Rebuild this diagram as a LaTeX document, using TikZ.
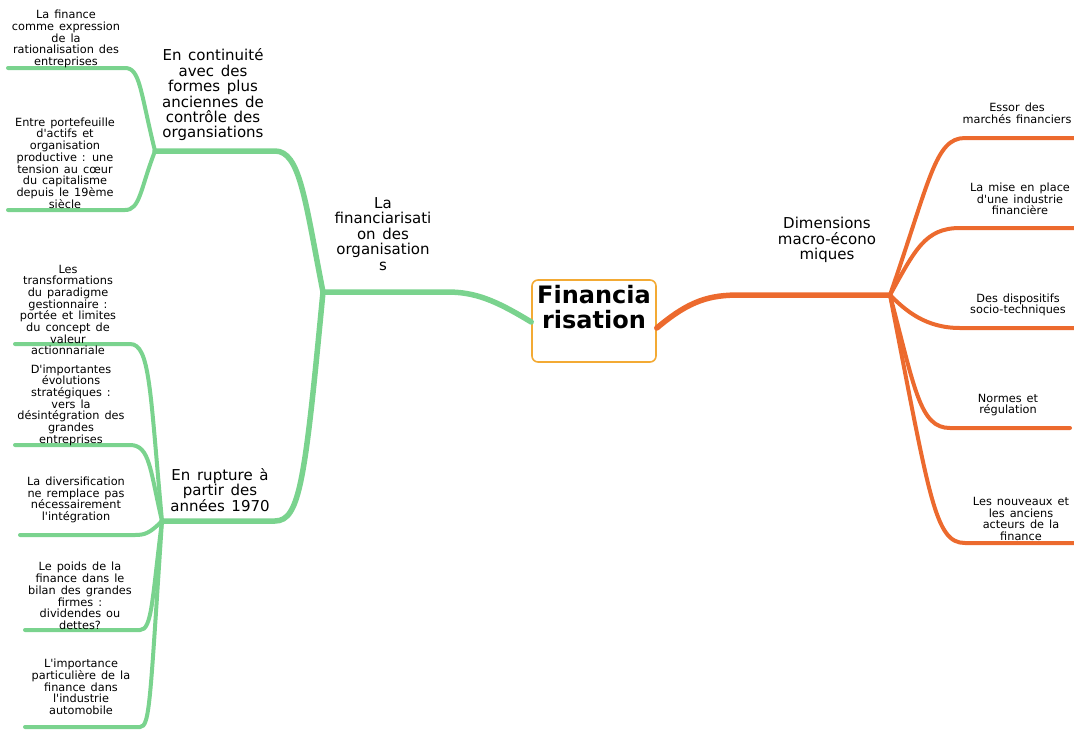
\documentclass[tikz,border=0pt]{standalone}
\usepackage{fontspec}
\setmainfont{DejaVu Sans}[WordSpace=1.4]
\usepackage{xcolor}
\usetikzlibrary{positioning, calc}
\definecolor{mapgreen}{RGB}{122,211,142}
\definecolor{maporange}{RGB}{236,106,46}
\definecolor{boxorange}{RGB}{243,170,52}
\newcommand{\ap}{\textquotesingle}
\tikzset{
    leaf/.style={
        align=center,
        inner sep=0pt,
        font=\fontsize{11.3}{11.7}\selectfont,
    },
    branch/.style={
        align=center,
        inner sep=0pt,
        font=\fontsize{15}{15.4}\selectfont,
    },
    central/.style={
        draw=boxorange,
        rounded corners=6pt,
        line width=1.6pt,
        fill=white,
        inner sep=0pt,
        font=\fontsize{24}{25}\selectfont\bfseries,
    },
    gtrunk/.style={draw=mapgreen, line width=5.5pt, line cap=round},
    gleaf/.style={draw=mapgreen, line width=4pt, line cap=round},
    otrunk/.style={draw=maporange, line width=5.5pt, line cap=round},
    oleaf/.style={draw=maporange, line width=4pt, line cap=round},
}

\begin{document}
\begin{tikzpicture}[x=1pt, y=-1pt]
      \useasboundingbox (0,0) rectangle (1074,729);

      \node[central] (fin) at (594,321)
        {\parbox[c][82pt][t]{124pt}{\centering\rule{0pt}{23pt}Financia\\risation}};

      % junctions
      \coordinate (jorg) at (323,292);
      \coordinate (jcont) at (155,151);
      \coordinate (jrupt) at (162,521);
      \coordinate (jmacro) at (890,295);

      % free ends of the leaf lines
      \coordinate (end1) at (8,68);
      \coordinate (end2) at (8,210);
      \coordinate (end3) at (15,344);
      \coordinate (end4) at (15,445);
      \coordinate (end5) at (20,535);
      \coordinate (end6) at (25,630);
      \coordinate (end7) at (25,727);
      \coordinate (endr1) at (1074,138);
      \coordinate (endr2) at (1074,228);
      \coordinate (endr3) at (1074,328);
      \coordinate (endr4) at (1070,428);
      \coordinate (endr5) at (1074,543);

      % green side
      \draw[gtrunk] ([yshift=-1pt]fin.west) .. controls (495,300) and (475,292) .. (447,292) -- (jorg);
      \draw[gtrunk] (jorg) .. controls (305,200) and (300,151) .. (275,151) -- (jcont);
      \draw[gtrunk] (jorg) .. controls (305,480) and (300,521) .. (275,521) -- (jrupt);

      \draw[gleaf] (jcont) .. controls (140,90) and (140,68) .. (125,68) -- (end1);
      \draw[gleaf] (jcont) .. controls (140,190) and (140,210) .. (125,210) -- (end2);

      \draw[gleaf] (jrupt) .. controls (150,390) and (150,344) .. (130,344) -- (end3);
      \draw[gleaf] (jrupt) .. controls (150,470) and (150,445) .. (130,445) -- (end4);
      \draw[gleaf] (jrupt) .. controls (150,533) and (145,535) .. (135,535) -- (end5);
      \draw[gleaf] (jrupt) .. controls (152,600) and (152,630) .. (140,630) -- (end6);
      \draw[gleaf] (jrupt) .. controls (150,700) and (150,727) .. (140,727) -- (end7);

      % orange side
      \draw[otrunk] ([yshift=-7pt]fin.east) .. controls (690,300) and (710,295) .. (740,295) -- (jmacro);

      \draw[oleaf] (jmacro) .. controls (930,180) and (935,138) .. (965,138) -- (endr1);
      \draw[oleaf] (jmacro) .. controls (915,250) and (925,228) .. (960,228) -- (endr2);
      \draw[oleaf] (jmacro) .. controls (905,310) and (925,328) .. (960,328) -- (endr3);
      \draw[oleaf] (jmacro) .. controls (915,390) and (920,428) .. (950,428) -- (endr4);
      \draw[oleaf] (jmacro) .. controls (930,500) and (935,543) .. (965,543) -- (endr5);

      % texts
      \node[branch] (orgs) at (383,234) {La\\financiarisati\\on des\\organisation\\s};
      \node[branch] (contin) at (213,95) {En continuité\\avec des\\formes plus\\anciennes de\\contrôle des\\organsiations};
      \node[branch] (rupture) at (220,490) {En rupture à\\partir des\\années 1970};
      \node[branch] (macro) at (827,240) {Dimensions\\macro-écono\\miques};

      \node[leaf] (rat) at (66,39) {La finance\\comme expression\\de la\\rationalisation des\\entreprises};
      \node[leaf] (porte) at (65,163) {Entre portefeuille\\d\ap actifs et\\organisation\\productive : une\\tension au cœur\\du capitalisme\\depuis le 19ème\\siècle};
      \node[leaf] (paradigme) at (68,310) {Les\\transformations\\du paradigme\\gestionnaire :\\portée et limites\\du concept de\\valeur\\actionnariale};
      \node[leaf] (strat) at (71,405) {D\ap importantes\\évolutions\\stratégiques :\\vers la\\désintégration des\\grandes\\entreprises};
      \node[leaf] (divers) at (76,500) {La diversification\\ne remplace pas\\nécessairement\\l\ap intégration};
      \node[leaf] (poids) at (80,596) {Le poids de la\\finance dans le\\bilan des grandes\\firmes :\\dividendes ou\\dettes?};
      \node[leaf] (auto) at (81,687) {L\ap importance\\particulière de la\\finance dans\\l\ap industrie\\automobile};

      \node[leaf] (essor) at (1017,113) {Essor des\\marchés financiers};
      \node[leaf] (indus) at (1020,199) {La mise en place\\d\ap une industrie\\financière};
      \node[leaf] (dispo) at (1018,305) {Des dispositifs\\socio-techniques};
      \node[leaf] (normes) at (1008,405) {Normes et\\régulation};
      \node[leaf] (acteurs) at (1021,519) {Les nouveaux et\\les anciens\\acteurs de la\\finance};

    \end{tikzpicture}
\end{document}
